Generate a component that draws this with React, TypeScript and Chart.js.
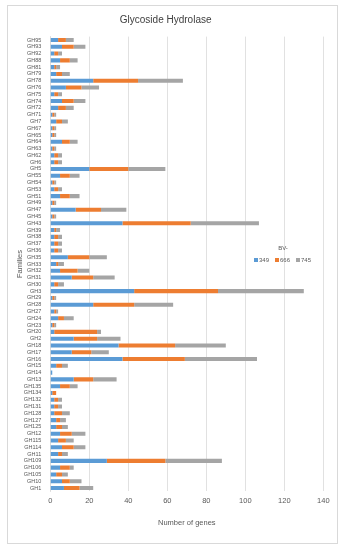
import React, { useEffect, useRef } from "react";
import { Chart, registerables } from "chart.js";

Chart.register(...registerables);

const families = [
  "GH95", "GH93", "GH92", "GH88", "GH81", "GH79", "GH78", "GH76", "GH75", "GH74",
  "GH72", "GH71", "GH7", "GH67", "GH65", "GH64", "GH63", "GH62", "GH6", "GH5",
  "GH55", "GH54", "GH53", "GH51", "GH49", "GH47", "GH45", "GH43", "GH39", "GH38",
  "GH37", "GH36", "GH35", "GH33", "GH32", "GH31", "GH30", "GH3", "GH29", "GH28",
  "GH27", "GH24", "GH23", "GH20", "GH2", "GH18", "GH17", "GH16", "GH15", "GH14",
  "GH13", "GH135", "GH134", "GH132", "GH131", "GH128", "GH127", "GH125", "GH12", "GH115",
  "GH114", "GH11", "GH109", "GH106", "GH105", "GH10", "GH1",
];

const bv349 = [
  4, 6, 2, 5, 2, 3, 22, 8, 2, 6,
  4, 1, 3, 1, 1, 6, 1, 2, 2, 20,
  5, 1, 2, 5, 1, 13, 1, 37, 2, 2,
  2, 2, 9, 3, 5, 11, 2, 43, 1, 22,
  2, 4, 1, 2, 12, 35, 11, 37, 3, 1,
  12, 5, 1, 2, 2, 2, 3, 3, 5, 4,
  6, 4, 29, 5, 3, 6, 7,
];

const bv666 = [
  4, 6, 2, 5, 1, 3, 23, 8, 2, 6,
  4, 1, 3, 1, 1, 4, 1, 2, 2, 20,
  5, 1, 2, 5, 1, 13, 1, 35, 1, 2,
  2, 2, 11, 1, 9, 11, 2, 43, 1, 21,
  1, 3, 1, 22, 12, 29, 10, 32, 3, 0,
  10, 5, 2, 2, 2, 4, 2, 3, 6, 4,
  6, 2, 30, 5, 3, 4, 8,
];

const bv745 = [
  4, 6, 2, 4, 2, 4, 23, 9, 2, 6,
  4, 1, 3, 1, 1, 4, 1, 2, 2, 19,
  5, 1, 2, 5, 1, 13, 1, 35, 2, 2,
  2, 2, 9, 3, 6, 11, 3, 44, 1, 20,
  1, 5, 1, 2, 12, 26, 9, 37, 3, 0,
  12, 4, 0, 2, 2, 4, 3, 3, 7, 4,
  6, 3, 29, 2, 3, 6, 7,
];

const seriesNames = ["349", "666", "745"];
const seriesColors = ["#5B9BD5", "#ED7D31", "#A5A5A5"];
const xTicks = [0, 20, 40, 60, 80, 100, 120, 140];

const FONT = "'Liberation Sans', Arial, sans-serif";
const TEXT = "#595959";

const framePlugin = {
  id: "frame",
  beforeDraw(chart: any) {
    const { ctx } = chart;
    ctx.save();
    ctx.fillStyle = "#ffffff";
    ctx.fillRect(0, 0, chart.width, chart.height);
    ctx.strokeStyle = "#D9D9D9";
    ctx.lineWidth = 1;
    ctx.strokeRect(7.5, 5.5, 330, 538);
    ctx.restore();
  },
};

const legendPlugin = {
  id: "insideLegend",
  afterDraw(chart: any) {
    const { ctx } = chart;
    ctx.save();
    ctx.fillStyle = TEXT;
    ctx.font = `6px ${FONT}`;
    ctx.textAlign = "center";
    ctx.textBaseline = "middle";
    ctx.fillText("BV-", 283, 248);
    ctx.textAlign = "left";
    let x = 254;
    chart.data.datasets.forEach((ds: any) => {
      ctx.fillStyle = ds.backgroundColor;
      ctx.fillRect(x, 258, 4, 4);
      ctx.fillStyle = TEXT;
      ctx.fillText(ds.label, x + 5, 260.5);
      x += 21;
    });
    ctx.restore();
  },
};

export default function App() {
  const canvasRef = useRef<HTMLCanvasElement | null>(null);

  useEffect(() => {
    if (!canvasRef.current) return;
    const values = [bv349, bv666, bv745];
    const chart = new Chart(canvasRef.current, {
      type: "bar",
      data: {
        labels: families,
        datasets: seriesNames.map((name, i) => ({
          label: name,
          data: values[i],
          backgroundColor: seriesColors[i],
          borderWidth: 0,
          categoryPercentage: 1,
          barPercentage: 0.6,
        })),
      },
      options: {
        indexAxis: "y",
        animation: false,
        responsive: false,
        maintainAspectRatio: false,
        layout: { padding: { left: 8, right: 22.7, top: 8, bottom: 10 } },
        plugins: {
          legend: { display: false },
          tooltip: { enabled: false },
          title: {
            display: true,
            text: "Glycoside Hydrolase",
            color: "#404040",
            font: { family: FONT, size: 10, weight: "normal" },
            padding: { top: 6, bottom: 10.6 },
          },
        },
        scales: {
          x: {
            stacked: true,
            min: 0,
            max: 140,
            afterBuildTicks: (scale: any) => {
              scale.ticks = xTicks.map((v) => ({ value: v }));
            },
            afterFit: (scale: any) => {
              scale.height = 48.6;
            },
            grid: { color: "#D9D9D9", lineWidth: 0.8, drawTicks: false },
            border: { display: false },
            ticks: {
              color: TEXT,
              padding: 5,
              font: { family: FONT, size: 7.5 },
              maxRotation: 0,
            },
            title: {
              display: true,
              text: "Number of genes",
              color: TEXT,
              font: { family: FONT, size: 7.5 },
              padding: { top: 0, bottom: 12.2 },
            },
          },
          y: {
            stacked: true,
            afterFit: (scale: any) => {
              scale.width = 42.3;
            },
            grid: { display: false, drawTicks: false },
            border: { display: true, color: "#D9D9D9", width: 0.8 },
            ticks: {
              autoSkip: false,
              color: TEXT,
              padding: 9,
              font: { family: FONT, size: 5.5 },
            },
            title: {
              display: true,
              text: "Families",
              color: TEXT,
              font: { family: FONT, size: 7.5 },
              padding: { top: 7.5, bottom: 0 },
            },
          },
        },
      },
      plugins: [framePlugin, legendPlugin],
    } as any);
    return () => chart.destroy();
  }, []);

  return (
    <div style={{ position: "fixed", left: 0, top: 0, width: 346, height: 550, background: "#fff" }}>
      <canvas ref={canvasRef} width={346} height={550} style={{ width: 346, height: 550, display: "block" }} />
    </div>
  );
}
